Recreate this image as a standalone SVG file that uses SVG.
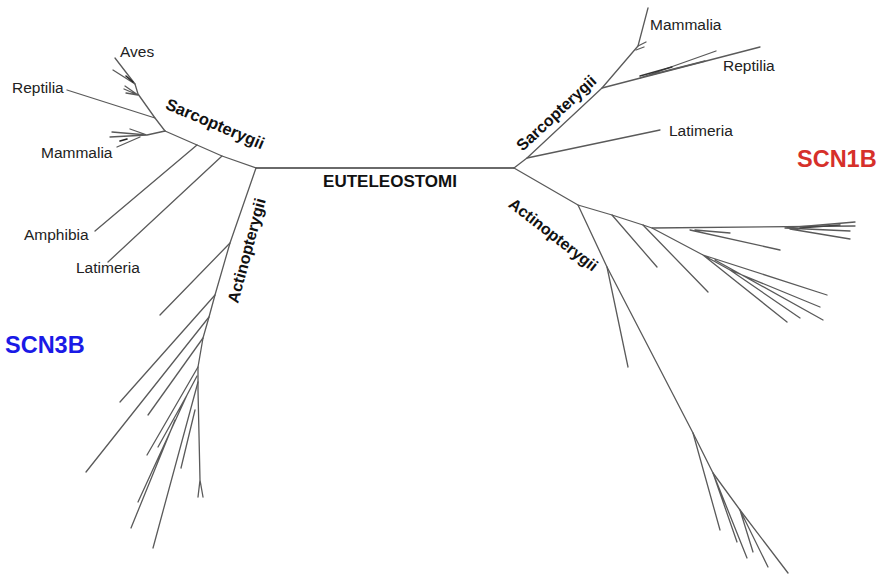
<svg xmlns="http://www.w3.org/2000/svg" width="883" height="574" viewBox="0 0 883 574">
<style>
.br{fill:none;stroke:#5a5a5a;stroke-width:1.3;stroke-linecap:round;stroke-linejoin:round}
.dk{fill:none;stroke:#222;stroke-width:2;stroke-linecap:round}
.tx{font-family:"Liberation Sans",Arial,sans-serif;font-size:15.5px;fill:#222}
.cl{font-family:"Liberation Sans",Arial,sans-serif;font-size:16px;font-weight:bold;fill:#111}
.gn{font-family:"Liberation Sans",Arial,sans-serif;font-size:23.5px;font-weight:bold}
</style>
<rect width="883" height="574" fill="#fff"/>
<g id="connectors">
  <path class="br" style="stroke-width:2;stroke:#6a6a6a" d="M256,168 L514,168"/>
  <path class="br" d="M256,168 L222,156 L197,145 L165,131"/>
  <path class="br" d="M197,145 L95,231"/>
  <path class="br" d="M222,156 L108,262"/>
  <path class="br" d="M165,131 L155,118 L138,94 L135,84 L115,58"/>
  <path class="br" d="M135,84 L113,70"/>
  <path class="dk" style="stroke-width:1.6" d="M133,82 L126,76"/>
  <path class="br" d="M138,95 L125,86 M138,95 L124,89 M138,95 L126,93"/>
  <path class="br" d="M155,118 L67,90"/>
  <path class="br" d="M165,131 L147,135 L130,129 M147,135 L112,132 M147,135 L110,137 M140,137 L117,147"/>
  <path class="dk" style="stroke-width:1.6" d="M127,139 L120,141"/>
  <path class="br" d="M256,168 L230,243 L215,295 L209,317 L203,338 L198,367 L198,390 L200,480 L198,497 M200,480 L203,497"/>
  <path class="br" d="M230,243 L160,315"/>
  <path class="br" d="M215,295 L120,402"/>
  <path class="br" d="M209,317 L86,472"/>
  <path class="br" d="M203,338 L148,415"/>
  <path class="br" d="M198,367 L147,455"/>
  <path class="br" d="M197,376 L187,395 L158,447 M187,395 L138,502 M175,420 L131,528"/>
  <path class="br" d="M198,382 L153,548"/>
  <path class="br" d="M195,410 L181,468"/>
  <path class="br" d="M514,168 L527,158 L602,88 L638,46 L648,8"/>
  <path class="br" d="M638,46 L646,42 M636,50 L644,47"/>
  <path class="br" d="M527,158 L660,130"/>
  <path class="br" d="M602,88 L760,47"/>
  <path class="br" d="M640,78 L716,51 M650,75 L705,61"/>
  <path class="dk" style="stroke-width:1.4;stroke:#333" d="M640,76 L672,67"/>
  <path class="br" d="M514,168 L578,205 L612,215 L643,225 L652,228 L855,226"/>
  <path class="br" d="M578,205 L607,267 L628,367"/>
  <path class="br" d="M607,267 L693,433 L713,473 L740,510 L788,573"/>
  <path class="br" d="M693,433 L720,530"/>
  <path class="br" d="M713,473 L737,542 M713,473 L747,558 M740,510 L753,552 M740,510 L768,567"/>
  <path class="br" d="M612,215 L657,267"/>
  <path class="br" d="M643,225 L708,292"/>
  <path class="br" d="M690,230 L780,250 M695,230 L730,233"/>
  <path class="br" d="M785,228 L855,222 M785,228 L850,231 M790,229 L850,239"/>
  <path class="dk" style="stroke-width:1.4;stroke:#444" d="M800,228 L840,225"/>
  <path class="br" d="M652,228 L703,255 L827,295 M703,255 L730,270 L820,307 M730,270 L800,318 M703,255 L787,322 M715,260 L823,320"/>
</g>
<g id="euteleostomi"><text class="cl" x="390" y="187" text-anchor="middle" style="font-size:17px">EUTELEOSTOMI</text></g>
<g id="sarco-left"><text class="cl" transform="translate(213,129) rotate(23)" text-anchor="middle" style="font-size:16.5px">Sarcopterygii</text></g>
<g id="actino-left"><text class="cl" transform="translate(252,252) rotate(-75)" text-anchor="middle">Actinopterygii</text></g>
<g id="sarco-right"><text class="cl" transform="translate(560,117) rotate(-43)" text-anchor="middle">Sarcopterygii</text></g>
<g id="actino-right"><text class="cl" transform="translate(550,239) rotate(38)" text-anchor="middle">Actinopterygii</text></g>
<g id="aves-l"><text class="tx" x="120" y="57">Aves</text></g>
<g id="reptilia-l"><text class="tx" x="12" y="93">Reptilia</text></g>
<g id="mammalia-l"><text class="tx" x="41" y="158">Mammalia</text></g>
<g id="amphibia-l"><text class="tx" x="24" y="240">Amphibia</text></g>
<g id="latimeria-l"><text class="tx" x="76" y="273">Latimeria</text></g>
<g id="mammalia-r"><text class="tx" x="650" y="30">Mammalia</text></g>
<g id="reptilia-r"><text class="tx" x="723" y="71">Reptilia</text></g>
<g id="latimeria-r"><text class="tx" x="669" y="136">Latimeria</text></g>
<g id="scn3b"><text class="gn" x="5" y="353" fill="#1a1ae6">SCN3B</text></g>
<g id="scn1b"><text class="gn" x="797" y="167" fill="#d6302a">SCN1B</text></g>
</svg>
